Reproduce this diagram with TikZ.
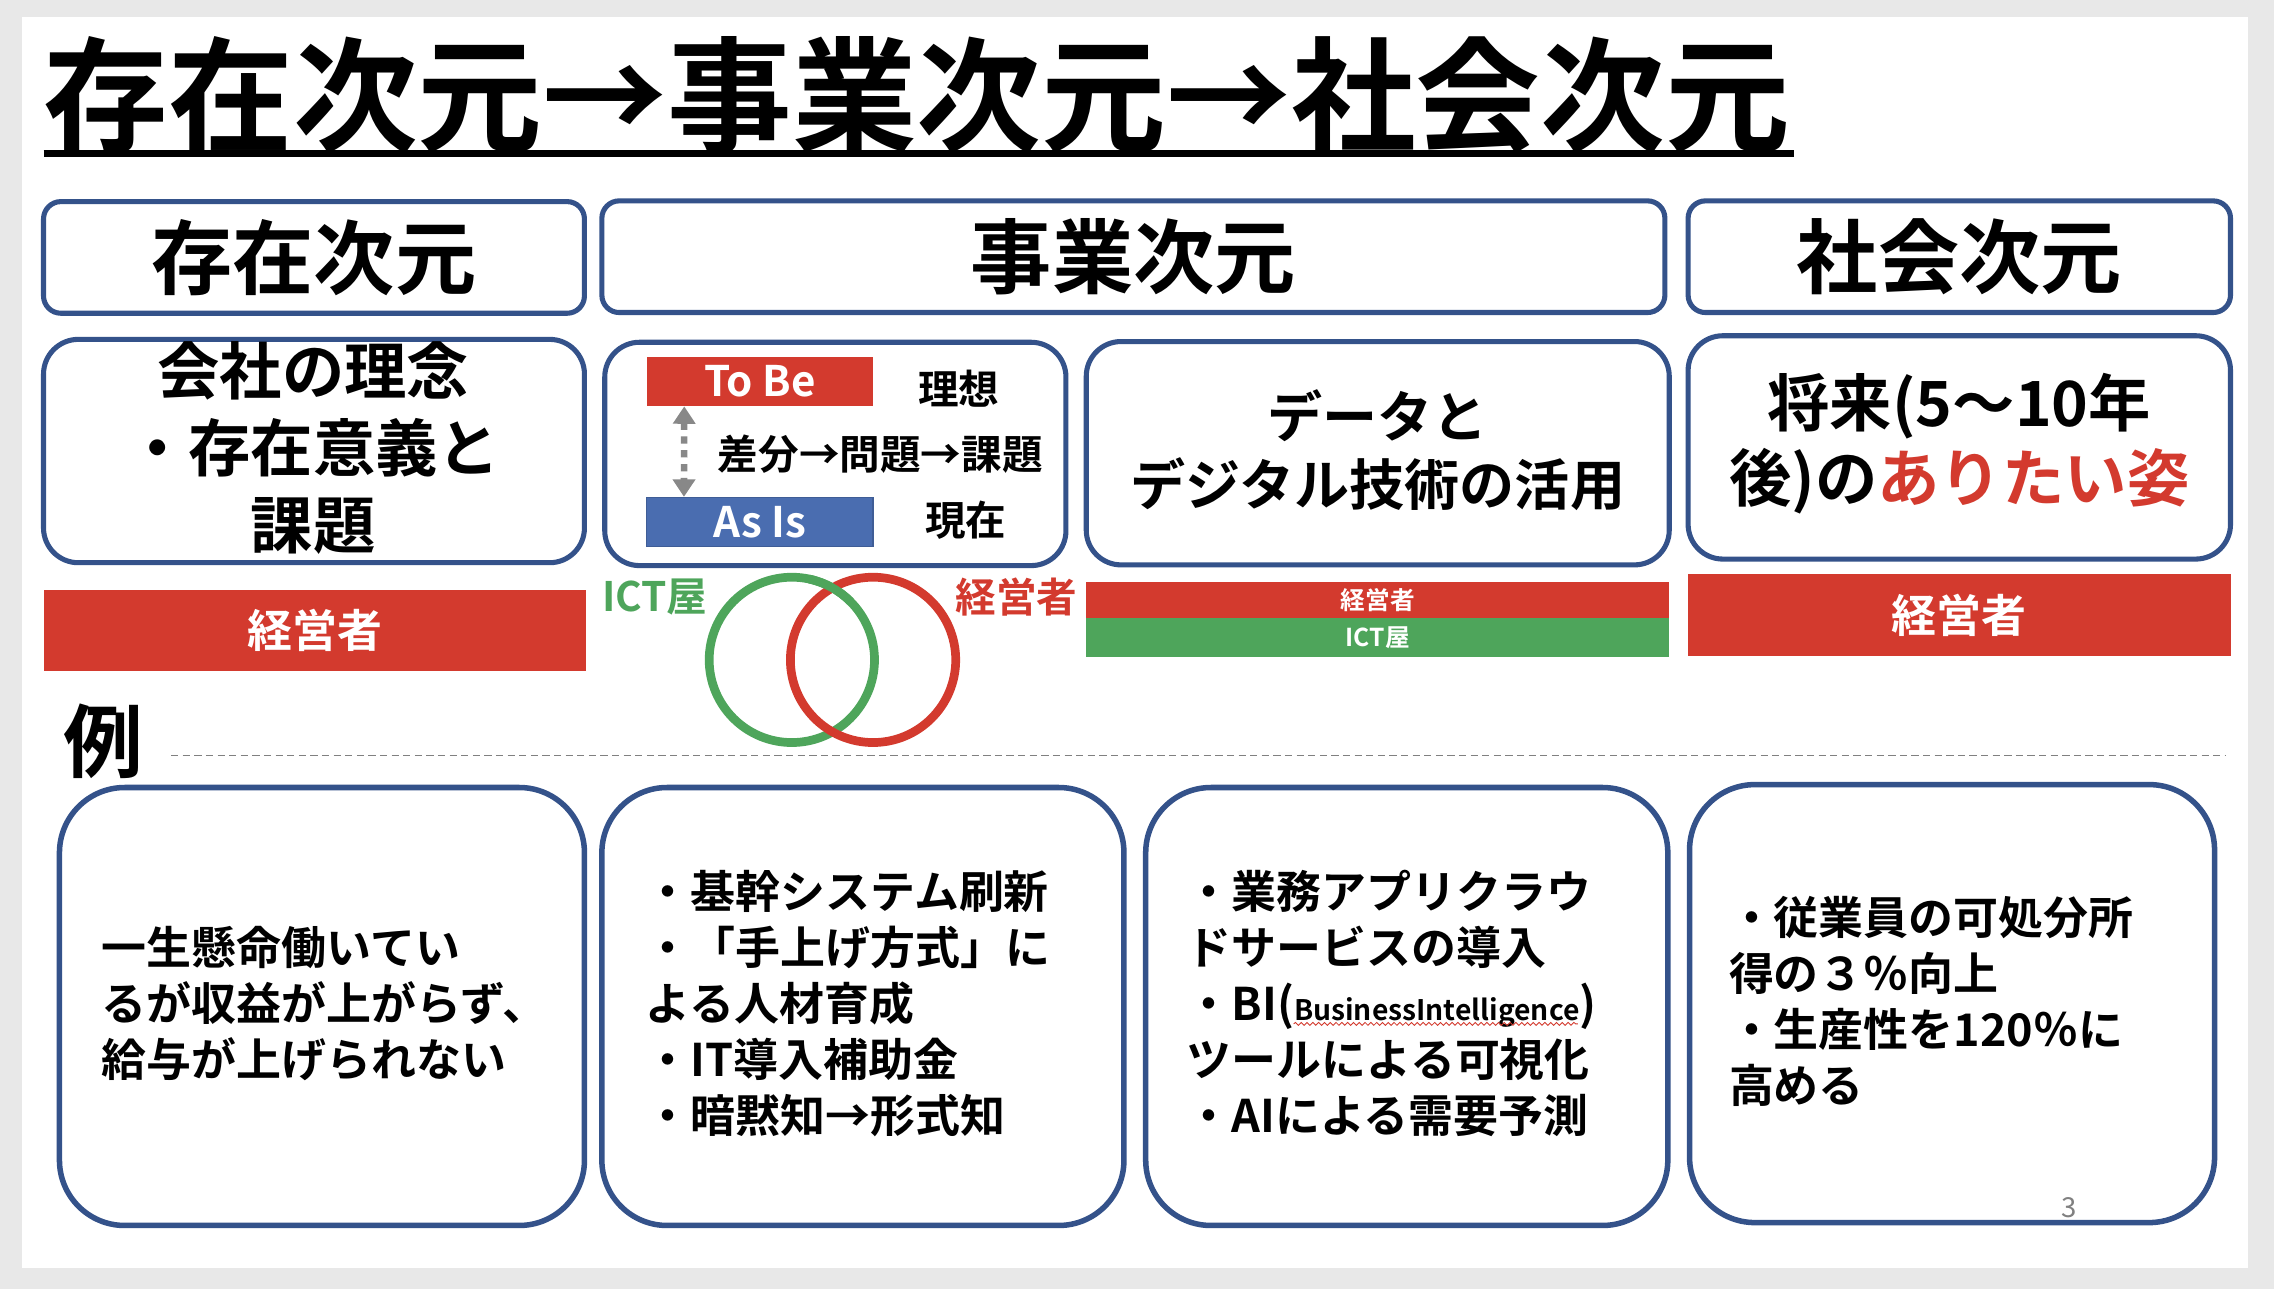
\documentclass[tikz,border=0pt]{standalone}
\usepackage{fontspec}
\setmainfont{Noto Sans CJK JP}[BoldFont={Noto Sans CJK JP Bold}]
\usetikzlibrary{arrows.meta,decorations.pathmorphing}
\definecolor{bdr}{HTML}{34528A}
\definecolor{myred}{HTML}{D33A2E}
\definecolor{mygreen}{HTML}{4EA55B}
\definecolor{myblue}{HTML}{4A6DB0}
\definecolor{bggrey}{HTML}{E8E8E8}
\definecolor{dgrey}{HTML}{888888}
\tikzset{
  hdr/.style={draw=bdr, line width=3.5pt, rounded corners=12pt, fill=white, inner sep=0pt, minimum height=77pt, font=\fontsize{56}{60}\selectfont\bfseries},
  midbox/.style={draw=bdr, line width=3.5pt, rounded corners=24pt, inner sep=0pt, minimum height=154pt},
  bigbox/.style={draw=bdr, line width=3.8pt, rounded corners=45pt, inner sep=0pt, minimum height=302pt},
  redbar/.style={fill=myred, inner sep=0pt, text=white, font=\fontsize{31}{34}\selectfont\bfseries},
  greenbar/.style={fill=mygreen, inner sep=0pt, text=white, font=\fontsize{17}{20}\selectfont\bfseries},
  tag/.style={inner sep=0pt, font=\fontsize{28}{32}\selectfont\bfseries},
  body/.style={inner sep=0pt, anchor=west, align=left, font=\fontsize{31}{38.5}\selectfont\bfseries},
  ring/.style={circle, line width=6pt, minimum size=114pt, inner sep=0pt},
}
\begin{document}
\begin{tikzpicture}[x=1pt,y=-1pt]
\useasboundingbox (0,0) rectangle (1568,889);
\fill[bggrey] (0,0) rectangle (1568,889);
\fill[white] (15,12) rectangle (1550,874);

% title
\node[inner sep=0pt, anchor=west, font=\fontsize{86}{90}\selectfont\bfseries] (title) at (30,66) {存在次元→事業次元→社会次元};
\draw[line width=4.5pt] (30,106) -- (1237,106);

% header row
\node[hdr, minimum width=373pt] (h1) at (216.5,177.5) {存在次元};
\node[hdr, minimum width=733pt] (h2) at (781.5,177) {事業次元};
\node[hdr, minimum width=374pt] (h3) at (1351,177) {社会次元};

% second row
\node[midbox, minimum width=373pt] (c1) at (216.5,311) {};
\node[inner sep=0pt, align=center, font=\fontsize{43}{53}\selectfont\bfseries] (c1t) at (216,309) {会社の理念\\・存在意義と\\課題};

\node[midbox, minimum width=318pt] (c2) at (576,313) {};
\node[fill=myred, inner sep=0pt, minimum width=156pt, minimum height=34pt, text=white, font=\fontsize{29}{32}\selectfont\bfseries] (tobe) at (524,263) {To Be};
\node[fill=myblue, draw=myblue!85!black, line width=0.8pt, inner sep=0pt, minimum width=156pt, minimum height=34pt, text=white, font=\fontsize{29}{32}\selectfont\bfseries] (asis) at (524,360) {As Is};
\node[tag] (riso) at (661,268) {理想};
\node[tag] (genzai) at (666,359) {現在};
\node[tag] (sabun) at (607,313) {差分→問題→課題};
\draw[dgrey, line width=4.5pt, dash pattern=on 5pt off 4.5pt, {Triangle[width=15pt,length=12pt]}-{Triangle[width=15pt,length=12pt]}] ([xshift=26pt]tobe.south west) -- ([xshift=26pt]asis.north west);

\node[midbox, minimum width=402pt] (c3) at (950,312.5) {};
\node[inner sep=0pt, align=center, font=\fontsize{38}{47}\selectfont\bfseries] (c3t) at (950,310.5) {データと\\デジタル技術の活用};

\node[midbox, minimum width=374pt] (c4) at (1351,308.5) {};
\node[inner sep=0pt, align=center, font=\fontsize{43}{52}\selectfont\bfseries] (c4t) at (1351,306) {将来(5～10年\\後)の{\color{myred}ありたい姿}};

% third row
\node[redbar, minimum width=374pt, minimum height=56pt] (b1) at (217,435) {経営者};
\node[tag, text=mygreen, anchor=west] (ict) at (415,412) {ICT屋};
\node[ring, draw=mygreen] (cg) at (546,455) {};
\node[ring, draw=myred] (cr) at (602,455) {};
\draw[mygreen, line width=6pt] ([shift={(-78:57)}]cg.center) arc[start angle=-78, end angle=-45, radius=57];
\node[tag, text=myred, anchor=east] (kei) at (743,412) {経営者};
\node[redbar, minimum width=402pt, minimum height=25pt, font=\fontsize{17}{20}\selectfont\bfseries] (b3r) at (950,413.5) {経営者};
\node[greenbar, minimum width=402pt, minimum height=27pt] (b3g) at (950,439.5) {ICT屋};
\node[redbar, minimum width=374pt, minimum height=56pt] (b4) at (1351,424) {経営者};

% example
\node[inner sep=0pt, font=\fontsize{55}{60}\selectfont\bfseries] (rei) at (71,511) {例};
\coordinate (dl) at (118,521);
\coordinate (dr) at (1535,521);
\draw[gray, line width=1.2pt, dash pattern=on 5pt off 3pt] (dl) -- (dr);

% bottom row
\node[bigbox, minimum width=362pt] (d1) at (222,694) {};
\node[bigbox, minimum width=360pt] (d2) at (595,694) {};
\node[bigbox, minimum width=360pt] (d3) at (970,694) {};
\node[bigbox, minimum width=362pt] (d4) at (1346,692) {};

\node[body] (d1t) at (70,692) {一生懸命働いてい\\るが収益が上がらず、\\給与が上げられない};
\node[body] (d2t) at (445,692) {・基幹システム刷新\\・「手上げ方式」に\\よる人材育成\\・IT導入補助金\\・暗黙知→形式知};
\node[body] (d3t) at (818,692) {・業務アプリクラウ\\ドサービスの導入\\・BI({\fontsize{19.5}{20}\selectfont BusinessIntelligence})\\ツールによる可視化\\・AIによる需要予測};
\node[body] (d4t) at (1192,690.5) {・従業員の可処分所\\得の３％向上\\・生産性を120％に\\高める};
\coordinate (wl) at (892,706);
\coordinate (wr) at (1088,706);
\draw[myred, line width=0.6pt, decorate, decoration={snake, amplitude=1pt, segment length=4pt}] (wl) -- (wr);

\node[inner sep=0pt, text=gray, font=\fontsize{19}{20}\selectfont] (pg) at (1427,833) {3};
\end{tikzpicture}
\end{document}
